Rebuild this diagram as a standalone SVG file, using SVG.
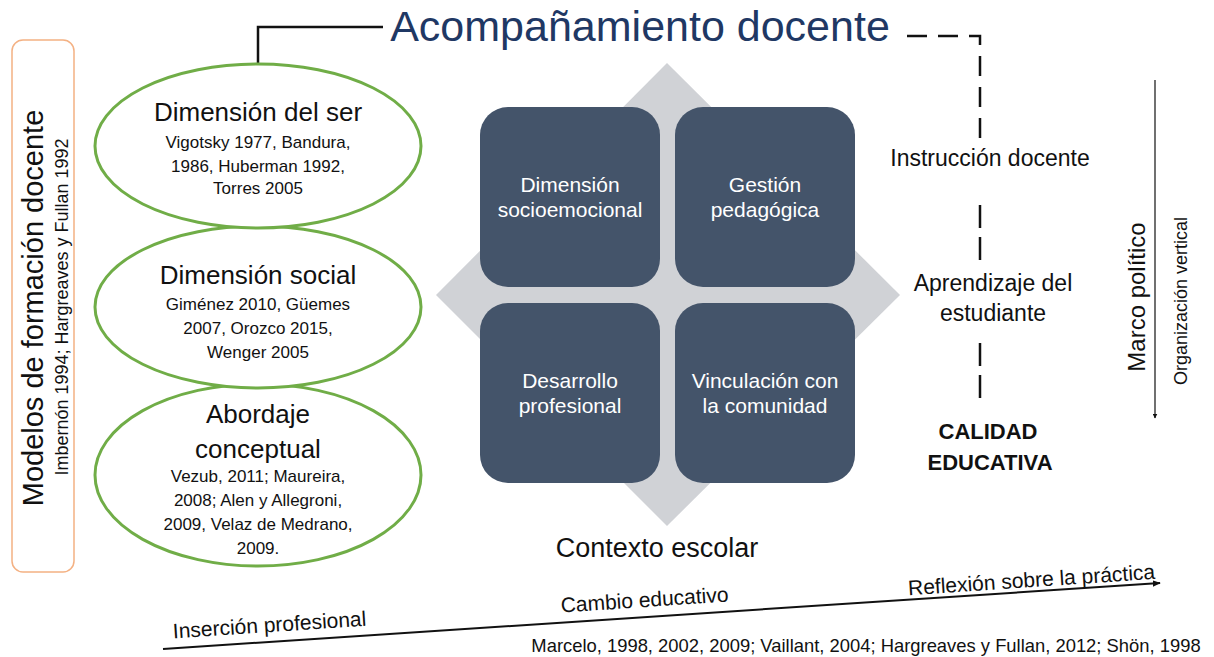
<svg xmlns="http://www.w3.org/2000/svg" width="1214" height="657" viewBox="0 0 1214 657">
<style>
text{font-family:"Liberation Sans",Arial,sans-serif;fill:#111;text-anchor:middle}
.ell{fill:#fff;stroke:#70ad47;stroke-width:3}
.sq{fill:#44546a}
.sqt{fill:#fff;font-size:21px}
.et{font-size:26px}
.es{font-size:17px}
.rt{font-size:23px}
.bt{font-size:21px}
.dash{stroke:#111;stroke-width:2.5;fill:none}
</style>
<defs>
<marker id="ah" viewBox="0 0 10 10" refX="9" refY="5" markerWidth="5" markerHeight="5" orient="auto" markerUnits="userSpaceOnUse">
<path d="M0,0 L10,5 L0,10 Z" fill="#111"/>
</marker>
<marker id="ah2" viewBox="0 0 10 10" refX="9" refY="5" markerWidth="8" markerHeight="8" orient="auto" markerUnits="userSpaceOnUse">
<path d="M0,1 L10,5 L0,9 Z" fill="#111"/>
</marker>
</defs>
<rect width="1214" height="657" fill="#fff"/>

<g id="modelos">
<rect x="12" y="40" width="62" height="532" rx="11" fill="#fff" stroke="#f4b183" stroke-width="1.5"/>
<text transform="translate(43,308) rotate(-90)" font-size="29">Modelos de formación docente</text>
<text transform="translate(68,307) rotate(-90)" font-size="18">Imbernón 1994; Hargreaves y Fullan 1992</text>
</g>

<g id="diamond">
<polygon points="667,63 900,295 667,526 436,295" fill="#d0d2d6"/>
</g>

<g id="connectors">
<polyline points="258,64 258,27 383,27" fill="none" stroke="#111" stroke-width="2.5"/>
<path class="dash" d="M907,36 H980 V140" stroke-dasharray="20 11"/>
<line class="dash" x1="980" y1="205" x2="980" y2="228"/>
<line class="dash" x1="980" y1="237" x2="980" y2="260"/>
<line class="dash" x1="980" y1="343" x2="980" y2="366"/>
<line class="dash" x1="980" y1="375" x2="980" y2="398"/>
<line x1="1155" y1="80" x2="1155" y2="418" stroke="#111" stroke-width="1.2" marker-end="url(#ah)"/>
<line x1="163" y1="649" x2="1160" y2="583" stroke="#111" stroke-width="2" marker-end="url(#ah2)"/>
</g>

<g id="title">
<text x="640" y="41" font-size="43" style="fill:#1f3864">Acompañamiento docente</text>
</g>

<g id="abordaje">
<ellipse class="ell" cx="258" cy="475" rx="163" ry="91"/>
<text class="et" x="258" y="423">Abordaje</text>
<text class="et" x="258" y="458">conceptual</text>
<text class="es" x="258" y="482">Vezub, 2011; Maureira,</text>
<text class="es" x="258" y="506">2008; Alen y Allegroni,</text>
<text class="es" x="258" y="530">2009, Velaz de Medrano,</text>
<text class="es" x="258" y="554">2009.</text>
</g>

<g id="social">
<ellipse class="ell" cx="258" cy="307" rx="163" ry="81"/>
<text class="et" x="258" y="284">Dimensión social</text>
<text class="es" x="258" y="310">Giménez 2010, Güemes</text>
<text class="es" x="258" y="334">2007, Orozco 2015,</text>
<text class="es" x="258" y="358">Wenger 2005</text>
</g>

<g id="ser">
<ellipse class="ell" cx="258" cy="146" rx="163" ry="82"/>
<text class="et" x="258" y="121">Dimensión del ser</text>
<text class="es" x="258" y="148">Vigotsky 1977, Bandura,</text>
<text class="es" x="258" y="172">1986, Huberman 1992,</text>
<text class="es" x="258" y="194">Torres 2005</text>
</g>

<g id="socioemocional">
<rect class="sq" x="480" y="107" width="180" height="180" rx="28"/>
<text class="sqt" x="570" y="192">Dimensión</text>
<text class="sqt" x="570" y="217">socioemocional</text>
</g>
<g id="gestion">
<rect class="sq" x="675" y="107" width="180" height="180" rx="28"/>
<text class="sqt" x="765" y="192">Gestión</text>
<text class="sqt" x="765" y="217">pedagógica</text>
</g>
<g id="desarrollo">
<rect class="sq" x="480" y="303" width="180" height="180" rx="28"/>
<text class="sqt" x="570" y="388">Desarrollo</text>
<text class="sqt" x="570" y="413">profesional</text>
</g>
<g id="vinculacion">
<rect class="sq" x="675" y="303" width="180" height="180" rx="28"/>
<text class="sqt" x="765" y="388">Vinculación con</text>
<text class="sqt" x="765" y="413">la comunidad</text>
</g>

<g id="contexto">
<text x="657" y="557" font-size="27">Contexto escolar</text>
</g>

<g id="instruccion">
<text class="rt" x="990" y="166">Instrucción docente</text>
</g>
<g id="aprendizaje">
<text class="rt" x="993" y="291">Aprendizaje del</text>
<text class="rt" x="993" y="321">estudiante</text>
</g>
<g id="calidad">
<text x="988" y="439" font-size="22" font-weight="bold">CALIDAD</text>
<text x="990" y="470" font-size="22" font-weight="bold">EDUCATIVA</text>
</g>

<g id="marco">
<text transform="translate(1145,297) rotate(-90)" font-size="24">Marco político</text>
<text transform="translate(1187,301) rotate(-90)" font-size="18">Organización vertical</text>
</g>

<g id="linea">
<text transform="translate(270,632) rotate(-3.8)" class="bt">Inserción profesional</text>
<text transform="translate(645,607) rotate(-3.8)" class="bt">Cambio educativo</text>
<text transform="translate(1032,587) rotate(-3.8)" class="bt">Reflexión sobre la práctica</text>
<text x="866" y="652" font-size="18.4">Marcelo, 1998, 2002, 2009; Vaillant, 2004; Hargreaves y Fullan, 2012; Shön, 1998</text>
</g>
</svg>
